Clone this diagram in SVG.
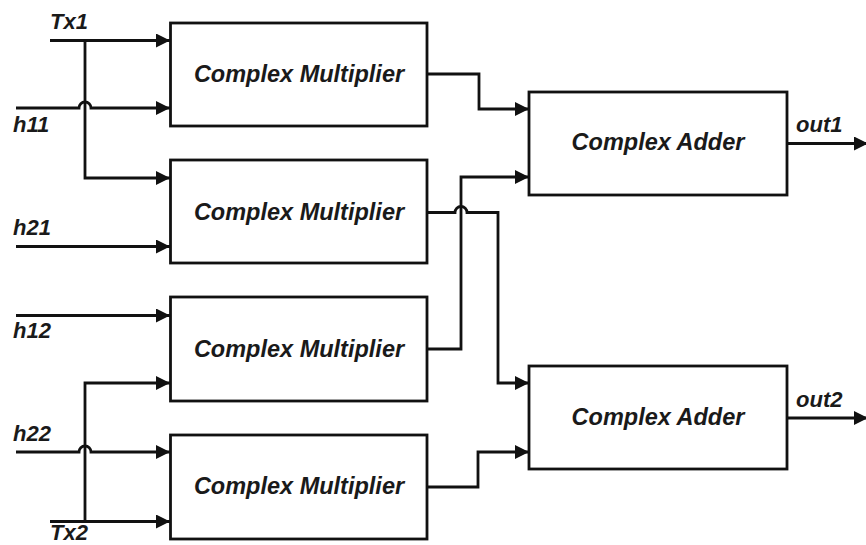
<svg xmlns="http://www.w3.org/2000/svg" width="866" height="545" viewBox="0 0 866 545">
<style>
.box{fill:#fff;stroke:#111;stroke-width:2.8}
.ln{fill:none;stroke:#111;stroke-width:2.8}
.t{font-family:"Liberation Sans",Arial,sans-serif;font-weight:bold;font-style:italic;font-size:23.5px;fill:#1a1a1a;text-anchor:middle}
.lb{font-family:"Liberation Sans",Arial,sans-serif;font-weight:bold;font-style:italic;font-size:22px;fill:#1a1a1a}
</style>
<defs>
<marker id="arr" markerUnits="userSpaceOnUse" markerWidth="15" markerHeight="14" refX="14" refY="7" orient="auto">
<path d="M0,0 L14,7 L0,14 z" fill="#111"/>
</marker>
</defs>
<g id="connectors">
<path class="ln" d="M50 40.5 H170" marker-end="url(#arr)"/>
<path class="ln" d="M85 40.5 V178 H170" marker-end="url(#arr)"/>
<path class="ln" d="M16 108 H79 A6 6 0 0 1 91 108 H170" marker-end="url(#arr)"/>
<path class="ln" d="M16 246.5 H170" marker-end="url(#arr)"/>
<path class="ln" d="M16 315.5 H170" marker-end="url(#arr)"/>
<path class="ln" d="M85 521.5 V383 H170" marker-end="url(#arr)"/>
<path class="ln" d="M16 452 H79 A6 6 0 0 1 91 452 H170" marker-end="url(#arr)"/>
<path class="ln" d="M50 521.5 H170" marker-end="url(#arr)"/>
<path class="ln" d="M427 74 H479 V109 H529" marker-end="url(#arr)"/>
<path class="ln" d="M427 212.5 H455 A6 6 0 0 1 467 212.5 H498 V383 H529" marker-end="url(#arr)"/>
<path class="ln" d="M427 349 H461 V177 H529" marker-end="url(#arr)"/>
<path class="ln" d="M427 487 H478 V452 H529" marker-end="url(#arr)"/>
<path class="ln" d="M787 143.5 H868" marker-end="url(#arr)"/>
<path class="ln" d="M787 418 H868" marker-end="url(#arr)"/>
</g>
<g id="mult1"><rect class="box" x="170.5" y="23" width="256.5" height="103"/><text class="t" x="299" y="82">Complex Multiplier</text></g>
<g id="mult2"><rect class="box" x="170.5" y="160" width="256.5" height="103"/><text class="t" x="299" y="219.5">Complex Multiplier</text></g>
<g id="mult3"><rect class="box" x="170.5" y="297" width="256.5" height="104"/><text class="t" x="299" y="357">Complex Multiplier</text></g>
<g id="mult4"><rect class="box" x="170.5" y="435" width="256.5" height="104"/><text class="t" x="299" y="494">Complex Multiplier</text></g>
<g id="adder1"><rect class="box" x="529" y="92" width="258" height="103"/><text class="t" x="658" y="150">Complex Adder</text></g>
<g id="adder2"><rect class="box" x="529" y="366" width="258" height="103"/><text class="t" x="658" y="425">Complex Adder</text></g>
<g id="labels">
<text class="lb" x="50" y="29">Tx1</text>
<text class="lb" x="13" y="132">h11</text>
<text class="lb" x="13" y="235">h21</text>
<text class="lb" x="13" y="338">h12</text>
<text class="lb" x="13" y="441">h22</text>
<text class="lb" x="50" y="540">Tx2</text>
<text class="lb" x="796" y="132">out1</text>
<text class="lb" x="796" y="407">out2</text>
</g>
</svg>
